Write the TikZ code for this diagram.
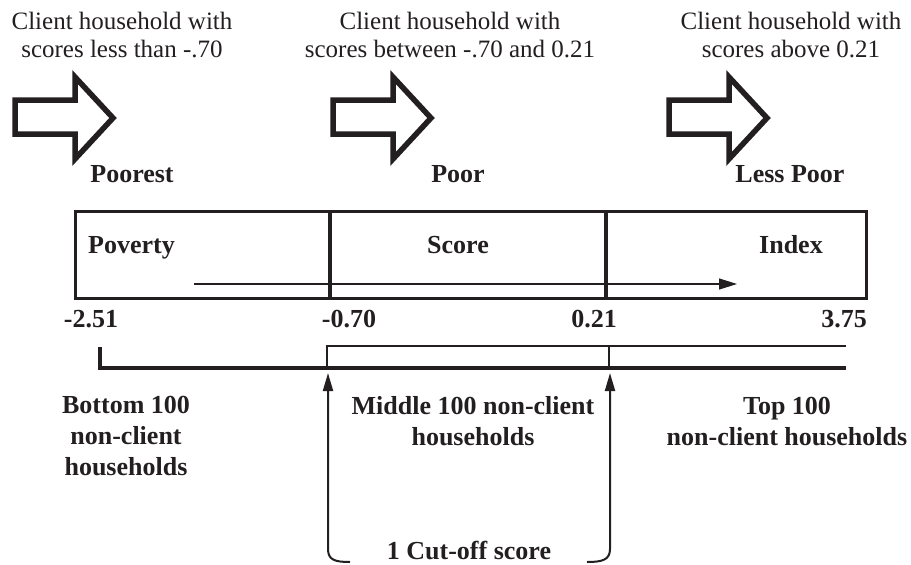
\documentclass[tikz,border=0pt]{standalone}
\usepackage{fontspec}
\setmainfont{Liberation Serif}
\usetikzlibrary{arrows.meta}
\definecolor{ink}{RGB}{35,31,32}
\tikzset{
  capt/.style={font=\fontsize{25}{28}\selectfont, align=center, anchor=base, inner sep=0pt, text=ink},
  lab/.style={font=\fontsize{26}{31}\selectfont\bfseries, align=center, anchor=base, inner sep=0pt, text=ink},
  blockarrow/.style={draw=ink, line width=5.5pt},
  divider/.style={draw=ink, line width=4pt},
  cutarrow/.style={draw=ink, line width=2pt, -{Triangle[length=18pt,width=10pt]}},
}

\begin{document}
\begin{tikzpicture}[x=1pt,y=-1pt]
    \useasboundingbox (0,0) rectangle (911,565);
    % Captions above the arrows (base = last line)
    \node[capt] (lowtxt) at (122,57) {Client household with\\scores less than -.70};
    \node[capt] (midtxt) at (450,57) {Client household with\\scores between -.70 and 0.21};
    \node[capt] (hightxt) at (791,57) {Client household with\\scores above 0.21};
    % Hollow block arrows
    \foreach \x in {12,330,666} {
      \draw[blockarrow] (\x+3,100) -- (\x+63,100) -- (\x+63,77) -- (\x+101,118)
        -- (\x+63,159) -- (\x+63,134) -- (\x+3,134) -- cycle;
    }
    % Group names
    \node[lab] (poorest) at (132,182) {Poorest};
    \node[lab] (poor) at (458,182) {Poor};
    \node[lab] (lesspoor) at (790,182) {Less Poor};
    % Score box
    \node[draw=ink, line width=2.7pt, minimum width=791pt, minimum height=87pt,
      inner sep=0pt, anchor=north west] (box) at (74,210) {};
    \draw[divider] (330,210) -- (330,297);
    \draw[divider] (606,210) -- (606,297);
    \node[lab, anchor=base west] (poverty) at (88,253) {Poverty};
    \node[lab] (score) at (458,253) {Score};
    \node[lab] (index) at (791,253) {Index};
    \coordinate (scalestart) at (194,284);
    \coordinate (scaleend) at (737,284);
    \draw[draw=ink, line width=1.2pt, -{Triangle[length=18pt,width=11pt]}] (scalestart) -- (scaleend);
    % Score values
    \node[lab] (nlow) at (91,327) {-2.51};
    \node[lab] (ncuta) at (349,327) {-0.70};
    \node[lab] (ncutb) at (594,327) {0.21};
    \node[lab, anchor=base east] (nhigh) at (867,327) {3.75};
    % Brackets
    \draw[draw=ink, line width=3.2pt] (100,347) -- (100,368) -- (846,368);
    \draw[draw=ink, line width=2pt] (327,368) -- (327,346) -- (846,346);
    \draw[draw=ink, line width=2pt] (609,346) -- (609,368);
    % Non-client groups (base = last line)
    \node[lab] (bottomgrp) at (126,475) {Bottom 100\\non-client\\households};
    \node[lab] (middlegrp) at (473,445) {Middle 100 non-client\\households};
    \node[lab] (topgrp) at (787,445) {Top 100\\non-client households};
    % Cut-off arrows
    \node[lab] (cutoff) at (469,559) {1 Cut-off score};
    \coordinate (leftfoot) at (350,562);
    \coordinate (lefttip) at (328,373);
    \coordinate (rightfoot) at (587,562);
    \coordinate (righttip) at (610,373);
    \draw[cutarrow] (leftfoot) .. controls (335,562) and (328,560) .. (328,549) -- (lefttip);
    \draw[cutarrow] (rightfoot) .. controls (602,562) and (610,560) .. (610,549) -- (righttip);
  \end{tikzpicture}
\end{document}
